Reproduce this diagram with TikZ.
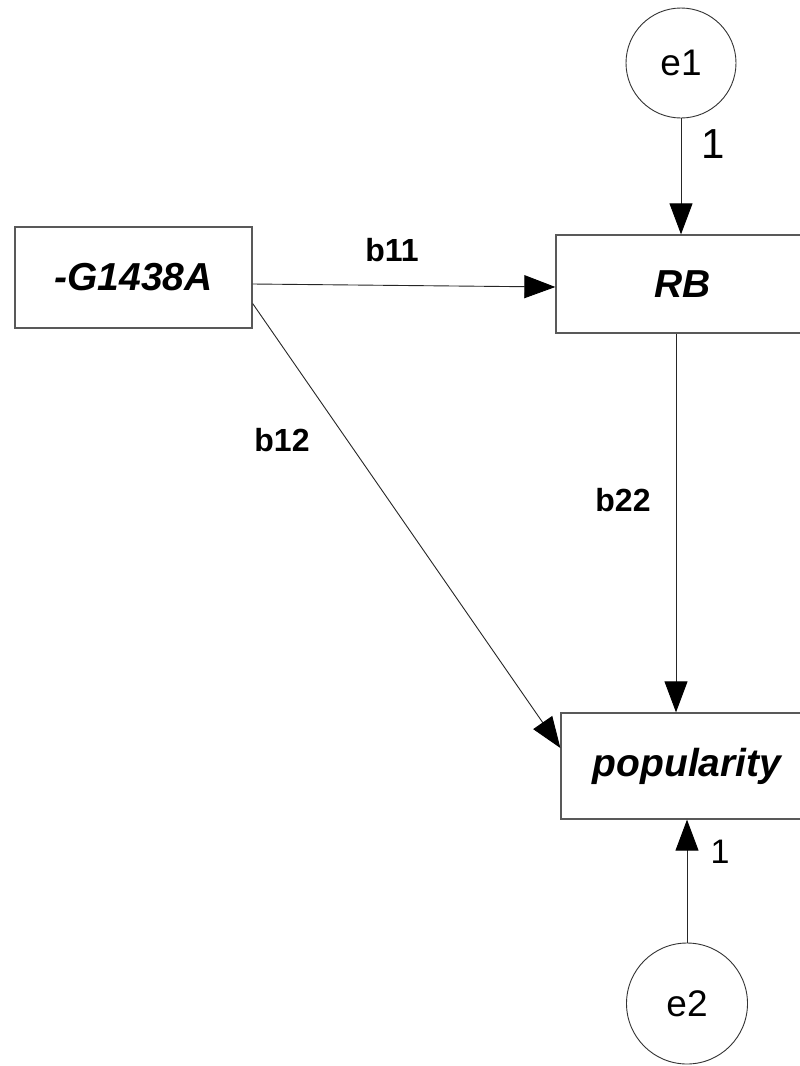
\documentclass[tikz,border=0pt]{standalone}
\usepackage{fontspec}
\setmainfont{Liberation Sans}
\usetikzlibrary{arrows.meta}
\tikzset{
  varbox/.style={draw=black!65, line width=1.3pt, rectangle, inner sep=0pt,
    font=\fontsize{39}{39}\selectfont\bfseries\itshape},
  errc/.style={draw=black!80, line width=0.9pt, circle, inner sep=0pt,
    font=\fontsize{37}{37}\selectfont},
  conn/.style={draw=black!85, line width=0.9pt, -{Triangle[length=31pt,width=23pt,color=black,fill=black]}},
  blabel/.style={font=\fontsize{32}{32}\selectfont\bfseries},
  onelabel/.style={font=\fontsize{42}{42}\selectfont},
}
\begin{document}
\begin{tikzpicture}[x=1pt,y=-1pt]
\clip (0,0) rectangle (800,1066);
\fill[white] (0,0) rectangle (800,1066);
\node[varbox, minimum width=237pt, minimum height=101pt] (G) at (133.5,277.5) {-G1438A};
\node[varbox, minimum width=254pt, minimum height=98pt] (RB) at (683,284) {RB};
\node[varbox, minimum width=252pt, minimum height=106pt] (pop) at (687,766) {popularity};
\node[errc, minimum size=110pt] (e1) at (681,63) {e1};
\node[errc, minimum size=121pt] (e2) at (687,1003.5) {e2};
\draw[conn] (e1.south) -- (e1.south |- RB.north);
\draw[conn] ([yshift=-6.5pt]G.east) -- ([yshift=-3pt]RB.west);
\draw[conn] ([yshift=-26pt]G.east) -- ([yshift=18pt]pop.west);
\draw[conn] ([xshift=-7pt]RB.south) -- ([xshift=-11pt]pop.north);
\draw[conn] (e2.north) -- (e2.north |- pop.south);
\node[blabel] (lb11) at (392,250) {b11};
\node[blabel] (lb12) at (282,440) {b12};
\node[blabel] (lb22) at (623,500) {b22};
\node[onelabel] (l1a) at (713,144) {1};
\node[onelabel, font=\fontsize{34}{34}\selectfont] (l1b) at (720,852) {1};
\end{tikzpicture}
\end{document}
